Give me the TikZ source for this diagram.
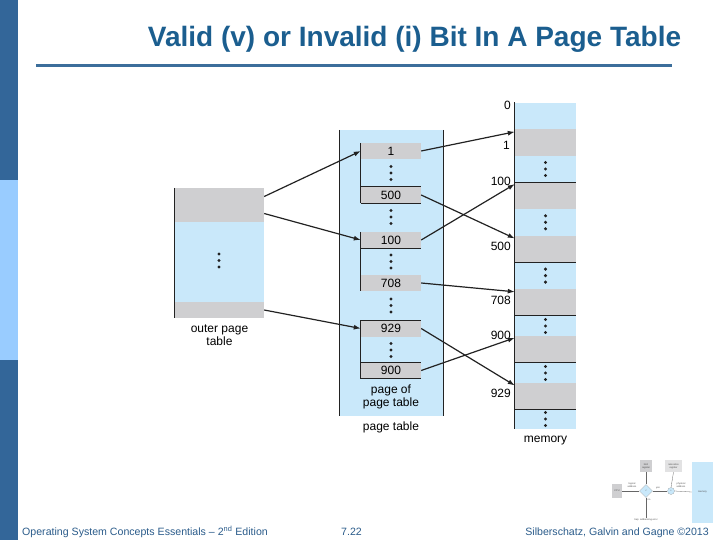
\documentclass[tikz,border=0pt]{standalone}
\usepackage{fontspec}
\setmainfont{Liberation Sans}
\usepackage{xcolor}
\usepackage{tikz}
\usetikzlibrary{arrows.meta, positioning, shapes.geometric}
\definecolor{slidedark}{HTML}{336699}
\definecolor{slidelight}{HTML}{99CCFF}
\definecolor{titleblue}{HTML}{1B5E8F}
\definecolor{rulecol}{HTML}{3C6E9B}
\definecolor{footblue}{HTML}{2A5B8A}
\definecolor{pageblue}{HTML}{C9E8FA}
\definecolor{framegray}{HTML}{CFCFD1}
\definecolor{darkgray}{HTML}{222222}

\begin{document}
\begin{tikzpicture}[x=1pt, y=-1pt,
  colbox/.style={rectangle, fill=pageblue, inner sep=0pt},
  entry/.style={rectangle, fill=framegray, inner sep=0pt, minimum width=60pt,
                minimum height=16pt, font=\fontsize{12}{14}\selectfont},
  memframe/.style={rectangle, fill=framegray, inner sep=0pt, minimum width=61pt,
                   minimum height=26.7pt},
  outerent/.style={rectangle, fill=framegray, inner sep=0pt, minimum width=89pt,
                   minimum height=17pt},
  edge/.style={darkgray, line width=0.9pt},
  arr/.style={-{Latex[length=7pt, width=5pt]}, darkgray, line width=1.2pt},
  lbl/.style={font=\fontsize{12}{13}\selectfont, align=center, inner sep=0pt},
  addr/.style={font=\fontsize{12}{13}\selectfont, anchor=east, inner sep=0pt},
  foot/.style={font=\fontsize{10.6}{12}\selectfont, text=footblue, inner sep=0pt},
  tiny/.style={font=\fontsize{2.4}{2.8}\selectfont, inner sep=0pt, align=center, text=black!70},
]
  \useasboundingbox (0,0) rectangle (720,540);

  %% ── Slide frame: side bar, title, rule ──────────────────────────────────
  \fill[slidedark]  (0,0)   rectangle (18,180);
  \fill[slidelight] (0,180) rectangle (18,360);
  \fill[slidedark]  (0,360) rectangle (18,540);
  \node[font=\bfseries\fontsize{28}{32}\selectfont, text=titleblue, anchor=base,
        inner sep=0pt] (title) at (414.5,47) {Valid (v) or Invalid (i) Bit In A Page Table};
  \coordinate (rl) at (36,66);
  \coordinate (rr) at (672,66);
  \draw[rulecol, line width=3pt] (rl) -- (rr);

  %% ── Outer page table (x=175..264) ───────────────────────────────────────
  \node[colbox, minimum width=89pt, minimum height=130pt] (outer) at (219.5,253) {};
  \node[outerent] (o1) at (219.5,196.5) {};
  \node[outerent] (o2) at (219.5,213.5) {};
  \node[outerent, minimum height=16pt] (o3) at (219.5,310) {};
  \draw[edge] (outer.north west) -- (outer.south west);
  \node[lbl] (outerlbl) at (219.5,335) {outer page\\table};

  %% ── Page table column (x=340..443) ──────────────────────────────────────
  \node[colbox, minimum width=103pt, minimum height=286pt] (pt) at (391.5,273) {};
  \draw[edge] (pt.north west) -- (pt.south west);
  \draw[edge] (pt.north east) -- (pt.south east);

  \node[entry] (e1)   at (391,151)   {1};
  \node[entry] (e500) at (391,195)   {500};
  \node[entry] (e100) at (391,240)   {100};
  \node[entry] (e708) at (391,283)   {708};
  \node[entry] (e929) at (391,328.5) {929};
  \node[entry] (e900) at (391,370.5) {900};

  % pages of the page table
  \draw[edge] (e1.north west) -- (e500.south west);
  \draw[edge] (e500.north west) -- (e500.north east);
  \draw[edge] (e500.south west) -- (e500.south east);
  \draw[edge] (e100.north west) -- (e708.south west);
  \draw[edge] (e100.south west) -- (e100.south east);
  \draw[edge] (e929.north west) -- (e900.south west);
  \draw[edge] (e929.north west) -- (e929.north east);
  \draw[edge] (e900.north west) -- (e900.north east);
  \draw[edge] (e900.south west) -- (e900.south east);

  \node[lbl] (poplbl) at (391,397) {page of\\page table};
  \node[lbl] (ptlbl)  at (391,427) {page table};

  %% ── Memory (x=515..576) ─────────────────────────────────────────────────
  \node[colbox, minimum width=61pt, minimum height=326.3pt] (mem) at (545.5,265.85) {};
  \node[memframe] (m1)   at (545.5,142.35) {};
  \node[memframe] (m100) at (545.5,195.65) {};
  \node[memframe] (m500) at (545.5,249)    {};
  \node[memframe] (m708) at (545.5,302.35) {};
  \node[memframe] (m900) at (545.5,349.35) {};
  \node[memframe] (m929) at (545.5,396)    {};
  \draw[edge] (mem.north west) -- (mem.south west);
  \draw[edge] (m100.north west) -- (m100.north east);
  \draw[edge] (m500.south west) -- (m500.south east);
  \draw[edge] (m708.south west) -- (m708.south east);
  \draw[edge] (m900.south west) -- (m900.south east);
  \draw[edge] (m929.south west) -- (m929.south east);

  \node[addr] (a0)   at (511,105) {0};
  \node[addr] (a1)   at (510,145) {1};
  \node[addr] (a100) at (511,181) {100};
  \node[addr] (a500) at (511,246) {500};
  \node[addr] (a708) at (511,300) {708};
  \node[addr] (a900) at (511,335) {900};
  \node[addr] (a929) at (511,393) {929};
  \node[lbl] (memlbl) at (545.5,441) {memory};

  %% ── Ellipsis dots ───────────────────────────────────────────────────────
  \foreach \cx/\cy in {219/260.5, 391/173, 391/217, 391/261.5, 391/305.5, 391/350,
                       545.5/169, 545.5/222.3, 545.5/275.6, 545.5/326,
                       545.5/373, 545.5/419}
    \foreach \d in {-6.5,0,6.5}
      \fill[darkgray] (\cx,\cy+\d) circle (1.7);

  %% ── Arrows ──────────────────────────────────────────────────────────────
  \draw[arr] (o1.east) -- (e1.west);
  \draw[arr] (o2.east) -- (e100.west);
  \draw[arr] (o3.east) -- (e929.west);
  \draw[arr] (e1.east)   -- ([yshift=-3pt]m1.north west);
  \draw[arr] (e500.east) -- ([yshift=-3pt]m500.north west);
  \draw[arr] (e100.east) -- ([yshift=-2pt]m100.north west);
  \draw[arr] (e708.east) -- ([yshift=-3pt]m708.north west);
  \draw[arr] (e929.east) -- ([yshift=-3pt]m929.north west);
  \draw[arr] (e900.east) -- ([yshift=-2pt]m900.north west);

  %% ── Corner thumbnail ────────────────────────────────────────────────────
  \node[tiny, fill=framegray, minimum width=12pt, minimum height=12pt] (tlim) at (646,466) {limit\\register};
  \node[tiny, fill=framegray!60, minimum width=17pt, minimum height=12pt] (trel) at (673.5,466) {relocation\\register};
  \node[tiny, fill=framegray, minimum width=10pt, minimum height=14pt] (tcpu) at (617,491) {CPU};
  \node[tiny, diamond, fill=pageblue, draw=black!40, line width=0.2pt,
        minimum width=13pt, minimum height=13pt] (tcmp) at (646,491) {<};
  \node[tiny, circle, fill=pageblue, draw=black!40, line width=0.2pt,
        minimum size=7pt] (tadd) at (671,491) {+};
  \node[tiny, fill=pageblue, minimum width=21pt, minimum height=61pt] (tmem) at (702.5,492) {memory};
  \coordinate (ttrap) at (646,518);
  \draw[black!60, line width=0.3pt] (tcpu.east) -- (tcmp.west);
  \draw[black!60, line width=0.3pt] (tcmp.east) -- (tadd.west);
  \draw[black!60, line width=0.3pt] (tadd.east) -- (tmem.west);
  \draw[black!60, line width=0.3pt] (tlim.south) -- (tcmp.north);
  \draw[black!60, line width=0.3pt] (trel.south) -- (tadd.north);
  \draw[black!60, line width=0.3pt] (tcmp.south) -- (ttrap);
  \node[tiny] (tla)  at (632,485) {logical\\address};
  \node[tiny] (tyes) at (658,488.5) {yes};
  \node[tiny] (tpa)  at (681,485) {physical\\address};
  \node[tiny] (tno)  at (649,500) {no};
  \node[tiny] (ttr)  at (646,520) {trap: addressing error};

  %% ── Footer ──────────────────────────────────────────────────────────────
  \node[foot, anchor=base west] (fl) at (22,535) {Operating System Concepts Essentials -- 2\textsuperscript{nd} Edition};
  \node[foot, anchor=base west] (fm) at (341,535) {7.22};
  \node[foot, anchor=base east] (fr) at (709,535) {Silberschatz, Galvin and Gagne ©2013};
\end{tikzpicture}
\end{document}
